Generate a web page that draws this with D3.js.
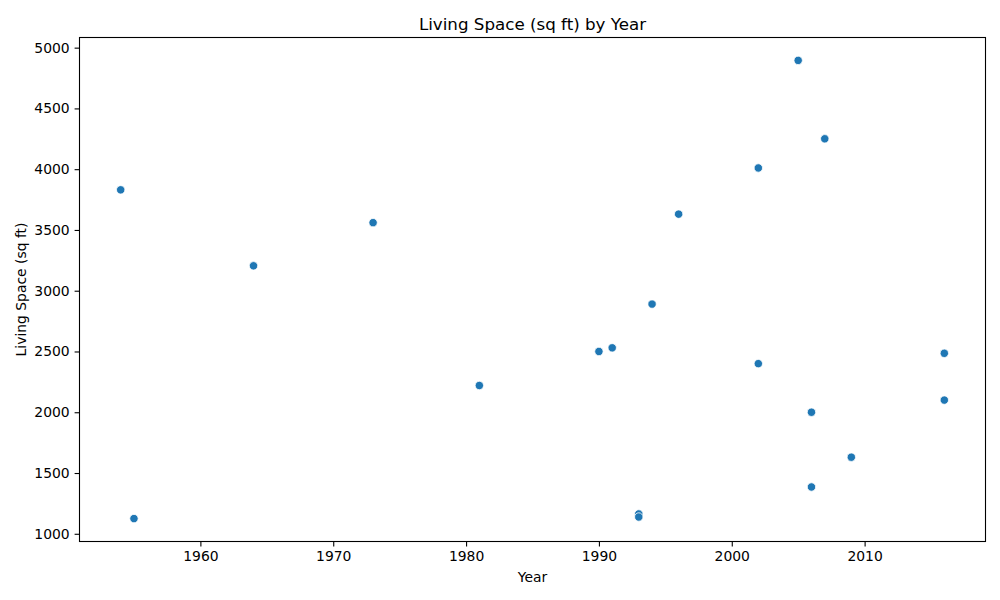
<!DOCTYPE html>
<html><head><meta charset="utf-8">
<script src="https://cdn.jsdelivr.net/npm/d3@7"></script>
<style>body{margin:0;background:#fff}svg{display:block;font-family:"DejaVu Sans",sans-serif}</style>
</head><body><svg id="c" width="1000" height="600"></svg>
<script>
const years = [2005, 2007, 2002, 1954, 1996, 1973, 1964, 1994, 1991, 1990, 2016, 2002, 1981, 2016, 2006, 2009, 2006, 1993, 1993, 1955];
const livingSpace = [4895, 4250, 4010, 3830, 3630, 3560, 3205, 2890, 2530, 2500, 2485, 2400, 2220, 2100, 2000, 1630, 1385, 1163, 1138, 1125];
const xTicks = [1960, 1970, 1980, 1990, 2000, 2010];
const yTicks = [1000, 1500, 2000, 2500, 3000, 3500, 4000, 4500, 5000];

const svg = d3.select("#c");
const L = 79.5, R = 985.5, T = 37.5, B = 541.5;
const xmin = d3.min(years), xmax = d3.max(years);
const ymin = d3.min(livingSpace), ymax = d3.max(livingSpace);
const xp = (xmax - xmin) * 0.05, yp = (ymax - ymin) * 0.05;
const x = d3.scaleLinear().domain([xmin - xp, xmax + xp]).range([L, R]);
const y = d3.scaleLinear().domain([ymin - yp, ymax + yp]).range([B, T]);

const xa = svg.append("g").attr("transform", `translate(0,${B})`)
  .call(d3.axisBottom(x).tickValues(xTicks).tickFormat(d3.format("d")).tickSize(4.9).tickPadding(4.9));
const ya = svg.append("g").attr("transform", `translate(${L},0)`)
  .call(d3.axisLeft(y).tickValues(yTicks).tickFormat(d3.format("d")).tickSize(4.9).tickPadding(4.9));
[xa, ya].forEach(a => {
  a.select(".domain").remove();
  a.selectAll("text").attr("font-size", "13.9px").attr("fill", "#000").attr("font-family", "DejaVu Sans");
  a.selectAll("line").attr("stroke", "#000").attr("stroke-width", 1.1);
});

svg.append("g").selectAll("circle").data(years).join("circle")
  .attr("cx", (d, i) => x(d)).attr("cy", (d, i) => y(livingSpace[i]))
  .attr("r", 4.2).attr("fill", "#1f77b4").attr("stroke", "#fff").attr("stroke-width", 0.8);

svg.append("rect").attr("x", L).attr("y", T).attr("width", R - L).attr("height", B - T)
  .attr("fill", "none").attr("stroke", "#000").attr("stroke-width", 1.1);

svg.append("text").attr("x", (L + R) / 2).attr("y", 30).attr("text-anchor", "middle")
  .attr("font-size", "16.7px").text("Living Space (sq ft) by Year");
svg.append("text").attr("x", (L + R) / 2).attr("y", 582).attr("text-anchor", "middle")
  .attr("font-size", "13.9px").text("Year");
svg.append("text").attr("transform", `translate(26,${(T + B) / 2}) rotate(-90)`).attr("text-anchor", "middle")
  .attr("font-size", "13.9px").text("Living Space (sq ft)");
</script></body></html>
